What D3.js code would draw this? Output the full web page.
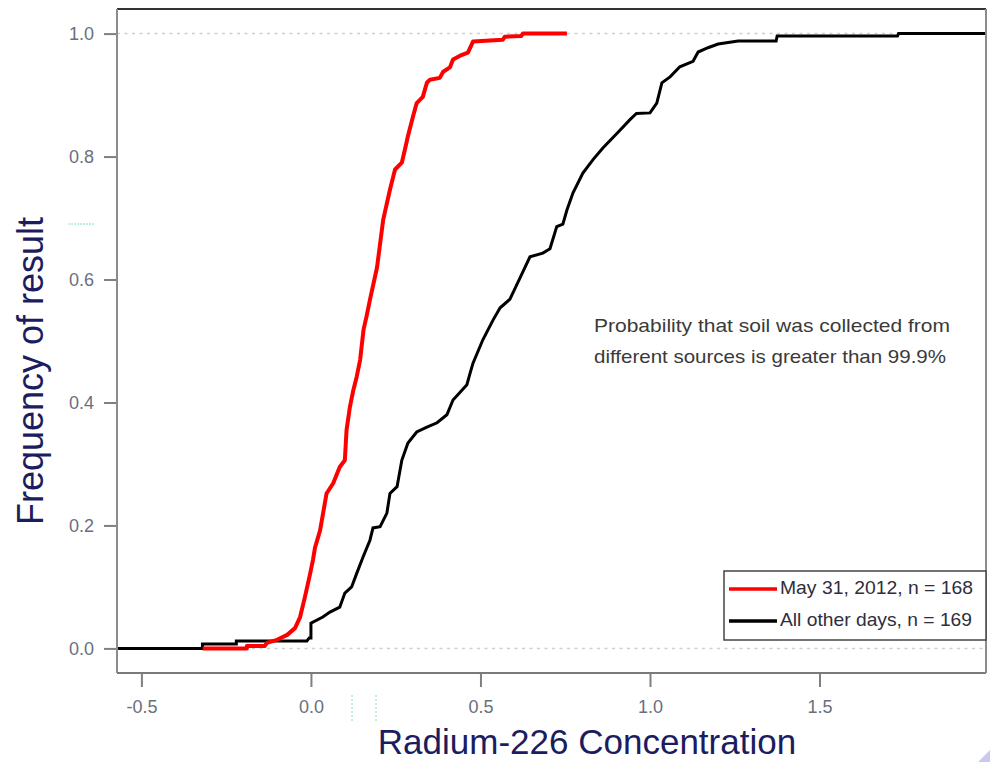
<!DOCTYPE html>
<html>
<head>
<meta charset="utf-8">
<script src="https://cdn.jsdelivr.net/npm/d3@7/dist/d3.min.js"></script>
<style>
  html, body { margin: 0; padding: 0; background: #ffffff; }
  svg { display: block; }
</style>
</head>
<body>
<svg id="chart" width="990" height="762"></svg>
<script>
// ---- Data ----
// Empirical CDF knots: concentration (x) and cumulative frequency (F)
const mayX = [-0.319, -0.189, -0.189, -0.136, -0.130, -0.100, -0.070, -0.047, -0.032, -0.018, -0.003, 0.006, 0.012, 0.027, 0.046, 0.066, 0.085, 0.100, 0.105, 0.115, 0.125, 0.135, 0.145, 0.155, 0.164, 0.174, 0.195, 0.213, 0.233, 0.248, 0.268, 0.277, 0.286, 0.301, 0.312, 0.330, 0.342, 0.351, 0.380, 0.390, 0.410, 0.419, 0.440, 0.463, 0.478, 0.566, 0.572, 0.620, 0.625, 0.755];
const mayF = [0.000, 0.000, 0.004, 0.004, 0.009, 0.014, 0.022, 0.033, 0.051, 0.083, 0.120, 0.144, 0.164, 0.192, 0.252, 0.269, 0.295, 0.306, 0.355, 0.393, 0.420, 0.442, 0.469, 0.518, 0.540, 0.567, 0.620, 0.697, 0.746, 0.779, 0.790, 0.811, 0.833, 0.865, 0.887, 0.897, 0.920, 0.925, 0.928, 0.938, 0.945, 0.958, 0.964, 0.969, 0.987, 0.990, 0.995, 0.996, 1.000, 1.000];

const otherX = [-0.600, -0.320, -0.320, -0.220, -0.220, -0.012, -0.005, 0.000, 0.000, 0.035, 0.056, 0.085, 0.100, 0.120, 0.135, 0.154, 0.174, 0.183, 0.204, 0.224, 0.233, 0.254, 0.268, 0.286, 0.312, 0.342, 0.372, 0.401, 0.419, 0.460, 0.469, 0.478, 0.507, 0.537, 0.558, 0.587, 0.617, 0.646, 0.684, 0.705, 0.725, 0.743, 0.755, 0.773, 0.802, 0.832, 0.861, 0.903, 0.941, 0.960, 1.000, 1.020, 1.035, 1.060, 1.088, 1.127, 1.142, 1.171, 1.201, 1.260, 1.372, 1.375, 1.730, 1.733, 2.000];
const otherF = [0.000, 0.000, 0.007, 0.007, 0.012, 0.012, 0.017, 0.017, 0.041, 0.051, 0.059, 0.067, 0.090, 0.100, 0.122, 0.149, 0.176, 0.196, 0.198, 0.220, 0.252, 0.263, 0.306, 0.334, 0.352, 0.360, 0.367, 0.380, 0.404, 0.429, 0.447, 0.464, 0.502, 0.534, 0.554, 0.568, 0.603, 0.637, 0.643, 0.650, 0.686, 0.690, 0.713, 0.741, 0.773, 0.795, 0.814, 0.838, 0.860, 0.870, 0.871, 0.887, 0.920, 0.930, 0.946, 0.955, 0.970, 0.977, 0.983, 0.988, 0.988, 0.996, 0.996, 1.000, 1.000];

const xTicks = [-0.5, 0.0, 0.5, 1.0, 1.5];
const yTicks = [0.0, 0.2, 0.4, 0.6, 0.8, 1.0];
const gridLevels = [0, 1];
const seriesNames = ["May 31, 2012, n = 168", "All other days, n = 169"];
const seriesColors = ["#ff0000", "#000000"];
const noteLines = ["Probability that soil was collected from", "different sources is greater than 99.9%"];
const xTitle = "Radium-226 Concentration";
const yTitle = "Frequency of result";

// ---- Layout ----
const pL = 117, pR = 986, pT = 9, pB = 673;
const svg = d3.select("#chart");

const x = d3.scaleLinear().domain([-0.572, 1.991]).range([pL, pR]);
const y = d3.scaleLinear().domain([-0.04, 1.04]).range([pB, pT]);
const fmt = d => d.toFixed(1);

svg.append("rect").attr("x", 0).attr("y", 0).attr("width", 990).attr("height", 762).attr("fill", "#fff");

svg.append("defs").append("clipPath").attr("id", "plotclip")
  .append("rect").attr("x", pL).attr("y", pT).attr("width", pR - pL).attr("height", pB - pT);

// gridlines at 0 and 1
svg.append("g").selectAll("line").data(gridLevels).join("line")
  .attr("x1", pL).attr("x2", pR)
  .attr("y1", d => y(d)).attr("y2", d => y(d))
  .attr("stroke", "#cfcfcf").attr("stroke-width", 1.5)
  .attr("stroke-dasharray", "3,4.5");

// axes
const tickColor = "#6a6f80";
const yAxis = svg.append("g").attr("transform", `translate(${pL},0)`)
  .call(d3.axisLeft(y).tickValues(yTicks).tickFormat(fmt).tickSize(13).tickPadding(10));
const xAxis = svg.append("g").attr("transform", `translate(0,${pB})`)
  .call(d3.axisBottom(x).tickValues(xTicks).tickFormat(fmt).tickSize(14).tickPadding(13));
[yAxis, xAxis].forEach(g => {
  g.select(".domain").remove();
  g.selectAll(".tick line").attr("stroke", "#808080").attr("stroke-width", 2);
  g.selectAll(".tick text").attr("fill", tickColor)
    .style("font-family", "'Liberation Sans', Arial, sans-serif").style("font-size", "18px");
});

// curves
const lineGen = d3.line().x(d => x(d[0])).y(d => y(d[1])).curve(d3.curveLinear);
const plot = svg.append("g").attr("clip-path", "url(#plotclip)");
const otherPts = otherX.map((v, i) => [v, otherF[i]]);
const mayPts = mayX.map((v, i) => [v, mayF[i]]);
plot.append("path").attr("d", lineGen(otherPts)).attr("fill", "none")
  .attr("stroke", seriesColors[1]).attr("stroke-width", 3).attr("stroke-linejoin", "miter");
plot.append("path").attr("d", lineGen(mayPts)).attr("fill", "none")
  .attr("stroke", seriesColors[0]).attr("stroke-width", 4).attr("stroke-linejoin", "round");

// frame
svg.append("line").attr("x1", pL).attr("x2", pR).attr("y1", pT).attr("y2", pT).attr("stroke", "#333").attr("stroke-width", 2);
svg.append("line").attr("x1", pL).attr("x2", pL).attr("y1", pT).attr("y2", pB).attr("stroke", "#8c8c8c").attr("stroke-width", 2);
svg.append("line").attr("x1", pL).attr("x2", pR).attr("y1", pB).attr("y2", pB).attr("stroke", "#7a7a7a").attr("stroke-width", 2);
svg.append("line").attr("x1", pR).attr("x2", pR).attr("y1", pT).attr("y2", pB).attr("stroke", "#8c8c8c").attr("stroke-width", 2);

// annotation
svg.append("g").selectAll("text").data(noteLines).join("text")
  .attr("x", 594).attr("y", (d, i) => 332 + i * 31)
  .attr("textLength", (d, i) => i === 0 ? 356 : 352).attr("lengthAdjust", "spacingAndGlyphs")
  .attr("fill", "#3a3a3a")
  .style("font-family", "'Liberation Sans', Arial, sans-serif").style("font-size", "19px")
  .text(d => d);

// legend
const lg = svg.append("g");
lg.append("rect").attr("x", 724).attr("y", 571).attr("width", pR - 724).attr("height", 69)
  .attr("fill", "#fff").attr("stroke", "#444").attr("stroke-width", 1.5);
seriesNames.forEach((name, i) => {
  const yy = 589 + i * 32;
  lg.append("line").attr("x1", 729).attr("x2", 777).attr("y1", yy).attr("y2", yy)
    .attr("stroke", seriesColors[i]).attr("stroke-width", 3.5);
  lg.append("text").attr("x", 780).attr("y", yy + 5)
    .attr("fill", "#2e2e3e")
    .style("font-family", "'Liberation Sans', Arial, sans-serif").style("font-size", "19px")
    .attr("textLength", i === 0 ? 193 : 192).attr("lengthAdjust", "spacingAndGlyphs")
    .text(name);
});

// axis titles
const titleColor = "#1c1c60";
svg.append("text").attr("x", 587).attr("y", 754).attr("text-anchor", "middle")
  .attr("fill", titleColor)
  .style("font-family", "'Liberation Sans', Arial, sans-serif").style("font-size", "35px")
  .text(xTitle);
svg.append("text").attr("transform", "translate(43,371) rotate(-90)").attr("text-anchor", "middle")
  .attr("fill", titleColor)
  .style("font-family", "'Liberation Sans', Arial, sans-serif").style("font-size", "36px")
  .text(yTitle);

// small teal dotted marks seen in the reference
const teal = "#7fdcc4";
svg.append("line").attr("x1", 68).attr("x2", 95).attr("y1", 224).attr("y2", 224)
  .attr("stroke", teal).attr("stroke-width", 1).attr("stroke-dasharray", "2,1");
[352, 376].forEach(px => {
  svg.append("line").attr("x1", px).attr("x2", px).attr("y1", 695).attr("y2", 723)
    .attr("stroke", teal).attr("stroke-width", 1).attr("stroke-dasharray", "2,2");
});

// lavender corner decoration
svg.append("polygon").attr("points", "978,762 990,750 990,762").attr("fill", "#c9c8f0");
</script>
</body>
</html>
